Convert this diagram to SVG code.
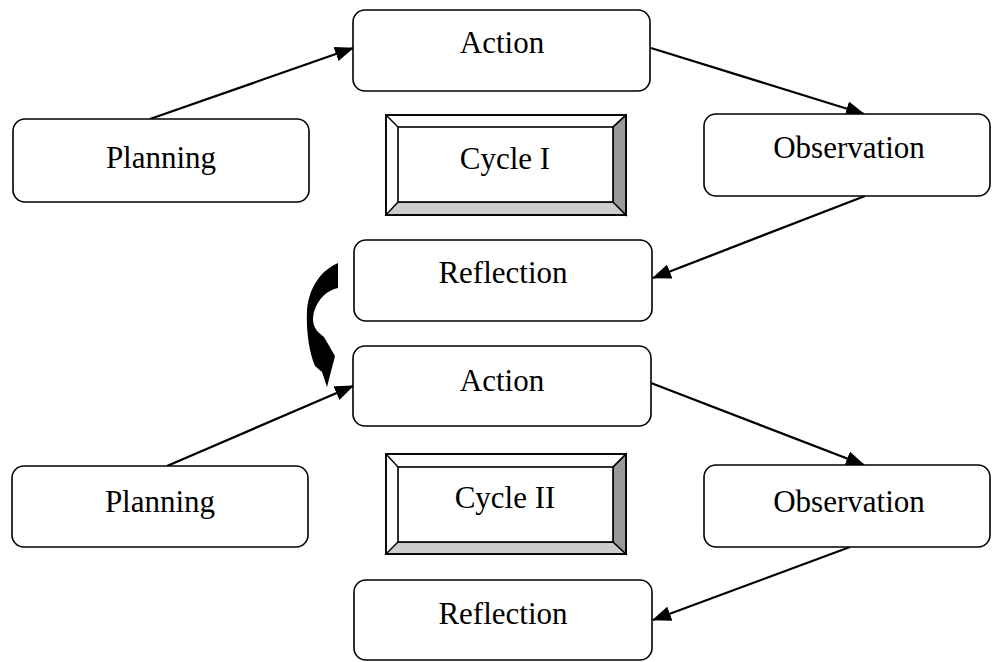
<svg xmlns="http://www.w3.org/2000/svg" width="992" height="662" viewBox="0 0 992 662">
<style>
.box{fill:#fff;stroke:#000;stroke-width:1.6}
.t{font-family:"Liberation Serif","Times New Roman",serif;font-size:31px;fill:#000;text-anchor:middle}
.c{stroke:#000;stroke-width:2.3;fill:none;marker-end:url(#ah)}
.bev{stroke:#000;stroke-width:1.4}
</style>
<defs>
<marker id="ah" markerUnits="userSpaceOnUse" markerWidth="19" markerHeight="15" refX="18" refY="7.5" orient="auto">
<path d="M0,0 L19,7.5 L0,15 Z" fill="#000"/>
</marker>
</defs>
<rect width="992" height="662" fill="#fff"/>
<g id="connectors">
<line class="c" x1="150" y1="119" x2="353" y2="48"/>
<line class="c" x1="651" y1="48" x2="864" y2="114"/>
<line class="c" x1="865" y1="196" x2="653" y2="278"/>
<line class="c" x1="167" y1="466" x2="353" y2="386"/>
<line class="c" x1="651" y1="383" x2="864" y2="465"/>
<line class="c" x1="850" y1="547" x2="653" y2="620"/>
<path id="curved-arrow" d="M338,263 L338,288 C328,290 318,298 314,312 C312,320 313,326 318,332 L324,337 L335,356 L327,387 L322,372 L315,366 C309,352 306,330 307,310 C309,290 318,272 338,263 Z" fill="#000"/>
</g>
<g id="action1"><rect class="box" x="353" y="10" width="297" height="81" rx="12"/><text class="t" x="502" y="53">Action</text></g>
<g id="planning1"><rect class="box" x="13" y="119" width="296" height="83" rx="12"/><text class="t" x="161" y="168">Planning</text></g>
<g id="cycle1">
<rect x="386" y="115" width="240" height="100" fill="#fff" stroke="#000" stroke-width="1.6"/>
<polygon points="386,215 398,202 613,202 626,215" fill="#ccc" class="bev"/>
<polygon points="626,115 613,127 613,202 626,215" fill="#999" class="bev"/>
<rect x="398" y="127" width="215" height="75" fill="#fff" stroke="#000" stroke-width="1.6"/>
<line class="bev" x1="386" y1="115" x2="398" y2="127"/>
<line class="bev" x1="626" y1="115" x2="613" y2="127"/>
<rect x="386" y="115" width="240" height="100" fill="none" stroke="#000" stroke-width="1.6"/>
<text class="t" x="505" y="169">Cycle I</text>
</g>
<g id="observation1"><rect class="box" x="704" y="114" width="286" height="82" rx="12"/><text class="t" x="849" y="158">Observation</text></g>
<g id="reflection1"><rect class="box" x="354" y="240" width="298" height="81" rx="12"/><text class="t" x="503" y="283">Reflection</text></g>
<g id="action2"><rect class="box" x="353" y="346" width="298" height="80" rx="12"/><text class="t" x="502" y="391">Action</text></g>
<g id="planning2"><rect class="box" x="12" y="466" width="296" height="81" rx="12"/><text class="t" x="160" y="512">Planning</text></g>
<g id="cycle2">
<rect x="386" y="454" width="240" height="100" fill="#fff" stroke="#000" stroke-width="1.6"/>
<polygon points="386,554 398,542 613,542 626,554" fill="#ccc" class="bev"/>
<polygon points="626,454 613,467 613,542 626,554" fill="#999" class="bev"/>
<rect x="398" y="467" width="215" height="75" fill="#fff" stroke="#000" stroke-width="1.6"/>
<line class="bev" x1="386" y1="454" x2="398" y2="467"/>
<line class="bev" x1="626" y1="454" x2="613" y2="467"/>
<rect x="386" y="454" width="240" height="100" fill="none" stroke="#000" stroke-width="1.6"/>
<text class="t" x="505" y="508">Cycle II</text>
</g>
<g id="observation2"><rect class="box" x="704" y="465" width="286" height="82" rx="12"/><text class="t" x="849" y="512">Observation</text></g>
<g id="reflection2"><rect class="box" x="354" y="580" width="298" height="80" rx="12"/><text class="t" x="503" y="624">Reflection</text></g>
</svg>
